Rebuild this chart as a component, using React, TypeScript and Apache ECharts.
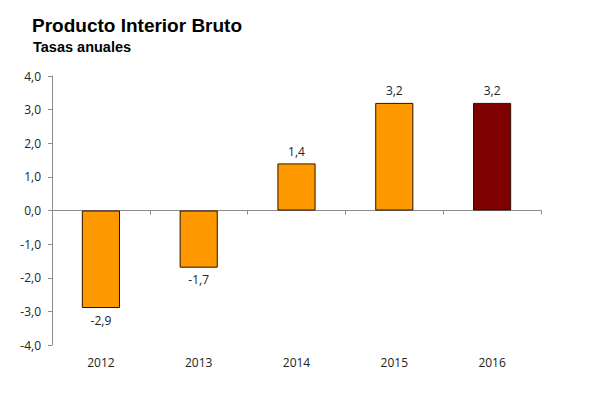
import React, { useEffect, useRef } from "react";
import * as echarts from "echarts";

const categories = ["2012", "2013", "2014", "2015", "2016"];
const values = [-2.9, -1.7, 1.4, 3.2, 3.2];
const barColors = ["#FF9900", "#FF9900", "#FF9900", "#FF9900", "#7F0000"];
const titleText = "Producto Interior Bruto";
const subtitleText = "Tasas anuales";

const fmt = (v: number) => v.toFixed(1).replace(".", ",");

export default function App() {
  const ref = useRef<HTMLDivElement>(null);
  useEffect(() => {
    if (!ref.current) return;
    const chart = echarts.init(ref.current, undefined, { renderer: "svg" });
    const font = "'Open Sans', sans-serif";
    chart.setOption({
      animation: false,
      backgroundColor: "#ffffff",
      title: [
        {
          text: titleText,
          left: 32,
          top: 16,
          padding: 0,
          textStyle: { fontFamily: "'Liberation Sans', Arial, sans-serif", fontWeight: "bold", fontSize: 19, color: "#000" },
        },
        {
          text: subtitleText,
          left: 33,
          top: 39,
          padding: 0,
          textStyle: { fontFamily: "'Liberation Sans', Arial, sans-serif", fontWeight: "bold", fontSize: 14.5, color: "#000" },
        },
      ],
      grid: { left: 52, right: 48, top: 76, bottom: 53, containLabel: false },
      xAxis: [
        {
          type: "category",
          data: categories,
          axisLine: { show: false, onZero: false },
          axisTick: { show: false },
          axisLabel: { margin: 11, color: "#222", fontFamily: font, fontSize: 12 },
        },
        {
          type: "category",
          data: categories,
          position: "bottom",
          axisLine: { show: true, onZero: true, lineStyle: { color: "#8c8c8c", width: 1 } },
          axisTick: { show: true, length: 4, lineStyle: { color: "#8c8c8c" } },
          axisLabel: { show: false },
        },
      ],
      yAxis: {
        type: "value",
        min: -4,
        max: 4,
        interval: 1,
        splitLine: { show: false },
        axisLine: { show: true, lineStyle: { color: "#8c8c8c", width: 1 } },
        axisTick: { show: true, length: 4, lineStyle: { color: "#8c8c8c" } },
        axisLabel: { margin: 11, color: "#222", fontFamily: font, fontSize: 12, formatter: (v: number) => fmt(v) },
      },
      series: [
        {
          type: "bar",
          xAxisIndex: 0,
          barWidth: "39%",
          data: values.map((v, i) => ({
            value: v,
            itemStyle: { color: barColors[i], borderColor: "#2a1200", borderWidth: 1 },
            label: { position: v < 0 ? "bottom" : "top" },
          })),
          label: {
            show: true,
            distance: 6,
            color: "#222",
            fontFamily: font,
            fontSize: 12,
            formatter: (p: any) => fmt(p.value),
          },
        },
      ],
    });
    return () => chart.dispose();
  }, []);
  return <div ref={ref} style={{ position: "fixed", left: 0, top: 0, width: 589, height: 398 }} />;
}
